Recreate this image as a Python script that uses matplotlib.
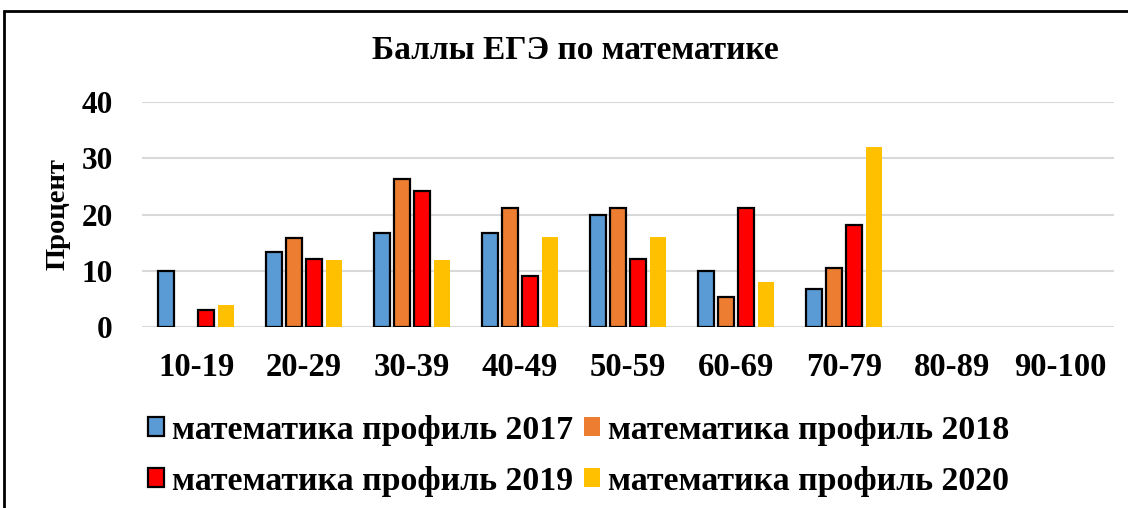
import numpy as np
import matplotlib
matplotlib.use("Agg")
import matplotlib.pyplot as plt
from matplotlib.patches import Rectangle

plt.rcParams["font.family"] = ["Liberation Serif", "DejaVu Serif"]
plt.rcParams["font.weight"] = "bold"

# score bands and the share of students per band (%)
bands = ["10-19", "20-29", "30-39", "40-49", "50-59", "60-69", "70-79", "80-89", "90-100"]
prof_2017 = [10.0, 13.3, 16.7, 16.7, 20.0, 10.0, 6.7, 0, 0]
prof_2018 = [0, 15.8, 26.3, 21.1, 21.1, 5.3, 10.5, 0, 0]
prof_2019 = [3.0, 12.1, 24.2, 9.1, 12.1, 21.2, 18.2, 0, 0]
prof_2020 = [4.0, 12.0, 12.0, 16.0, 16.0, 8.0, 32.0, 0, 0]

series = [
    ("математика профиль 2017", prof_2017, "#5B9BD5", "black"),
    ("математика профиль 2018", prof_2018, "#ED7D31", "black"),
    ("математика профиль 2019", prof_2019, "#FF0000", "black"),
    ("математика профиль 2020", prof_2020, "#FFC000", "none"),
]

fig = plt.figure(figsize=(11.28, 5.08), dpi=100)
ax = fig.add_axes([0.1259, 0.3563, 0.8617, 0.4429])

x = np.arange(len(bands))
step = 0.183
width = 0.148
handles = []
for i, (name, vals, color, edge) in enumerate(series):
    # empty bands get no outline, so nothing is drawn there
    edges = [edge if v > 0 else "none" for v in vals]
    h = ax.bar(x + (i - 1.5) * step, vals, width, color=color,
               edgecolor=edges, linewidth=1.6, label=name, zorder=3)
    handles.append(h)

ax.set_xlim(-0.5, len(bands) - 0.5)
ax.set_ylim(0, 40)
ax.set_yticks([0, 10, 20, 30, 40])
ax.set_xticks(x)
ax.set_xticklabels(bands)
ax.grid(axis="y", color="#D9D9D9", linewidth=1.5, zorder=0)
for s in ax.spines.values():
    s.set_visible(False)
ax.tick_params(axis="y", length=0, pad=21, labelsize=22.5)
ax.tick_params(axis="x", length=0, pad=18, labelsize=23.5)
ax.set_ylabel("Процент", fontsize=20.5, fontweight="bold", labelpad=8)

fig.text(0.51, 0.90, "Баллы ЕГЭ по математике", ha="center", va="center",
         fontsize=24, fontweight="bold")

# legend: 2 columns, filled column by column
order = [0, 2, 1, 3]
leg = fig.legend([handles[k] for k in order], [series[k][0] for k in order],
                 ncol=2, loc="center", bbox_to_anchor=(0.513, 0.103), frameon=False,
                 fontsize=24.4, handlelength=0.47, handleheight=0.47, handletextpad=0.25,
                 columnspacing=0.3, labelspacing=0.6, borderpad=0)

# outer frame around the chart
fig.patches.append(Rectangle((4 / 1128, -0.05), 1.2, 1.05 - 11 / 508,
                             transform=fig.transFigure, fill=False,
                             edgecolor="black", linewidth=2, zorder=10))

fig.savefig("out.png", dpi=100, facecolor="white")
